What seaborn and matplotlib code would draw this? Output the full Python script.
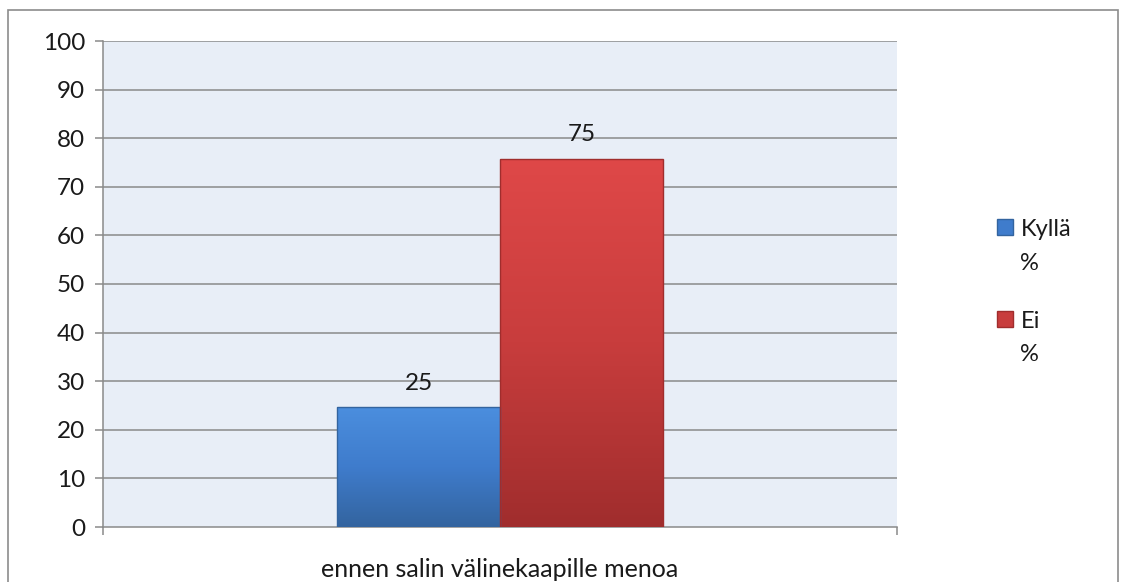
import matplotlib
matplotlib.use("Agg")
import matplotlib.pyplot as plt
import matplotlib.colors as mcolors
from matplotlib.patches import Rectangle
import numpy as np
import pandas as pd
import seaborn as sns

# ---- data ----
categories = ["ennen salin välinekaapille menoa"]
series = ["Kyllä\n%", "Ei\n%"]
values = [24.6, 75.8]
value_labels = ["25", "75"]
yticks = [0, 10, 20, 30, 40, 50, 60, 70, 80, 90, 100]

colors_mid = ["#3f7ccc", "#c83d3d"]
colors_top = ["#4b8ede", "#df4848"]
colors_bot = ["#33649f", "#a02d2d"]

sns.set_theme(style="white")
plt.rcParams["font.family"] = ["Lato", "DejaVu Sans"]

W, H, DPI = 1127, 582, 100
fig = plt.figure(figsize=(W / DPI, H / DPI), dpi=DPI)
fig.patch.set_facecolor("white")

ax = fig.add_axes([103 / W, 1 - 527 / H, (897 - 103) / W, (527 - 41) / H])
ax.set_facecolor("#e8eef7")

df = pd.DataFrame({
    "cat": [categories[0]] * len(series),
    "series": series,
    "val": values,
})

sns.barplot(data=df, x="cat", y="val", hue="series", hue_order=series,
            palette=colors_mid, width=0.41, ax=ax, saturation=1,
            edgecolor="none", linewidth=0, zorder=3)

ax.set_xlim(-0.5, 0.5)
ax.set_ylim(0, 100)
ax.set_yticks(yticks)
ax.set_yticklabels([str(t) for t in yticks])
ax.set_xlabel("")
ax.set_ylabel("")

# gridlines
for t in yticks[1:]:
    ax.axhline(t, color="#8a8a8a", lw=1.1, zorder=1)

# gradients on bars
bars = [p for p in ax.patches if isinstance(p, Rectangle)][:len(values)]
for i, p in enumerate(bars):
    x0, y0, w, h = p.get_x(), p.get_y(), p.get_width(), p.get_height()
    cmap = mcolors.LinearSegmentedColormap.from_list(
        "g%d" % i, [colors_bot[i], colors_mid[i], colors_top[i]])
    grad = np.linspace(0, 1, 256).reshape(-1, 1)
    im = ax.imshow(grad, cmap=cmap, origin="lower", aspect="auto",
                   extent=[x0, x0 + w, y0, y0 + h], zorder=4)
    im.set_clip_path(p)
    ax.add_patch(Rectangle((x0, y0), w, h, fill=False,
                           edgecolor=colors_bot[i], lw=1.0, zorder=5))
ax.set_xlim(-0.5, 0.5)
ax.set_ylim(0, 100)

# data labels
for i, p in enumerate(bars):
    ax.annotate(value_labels[i], (p.get_x() + p.get_width() / 2, p.get_height()),
                xytext=(0, 10), textcoords="offset points", ha="center",
                va="bottom", fontsize=17.5, color="#1a1a1a", zorder=6)

# spines and ticks
for s in ["top", "right"]:
    ax.spines[s].set_visible(False)
for s in ["left", "bottom"]:
    ax.spines[s].set_color("#8a8a8a")
    ax.spines[s].set_linewidth(1.1)
ax.tick_params(axis="y", which="major", direction="out", length=6, width=1.1,
               color="#8a8a8a", labelsize=17.5, labelcolor="#1a1a1a", pad=7, left=True)
ax.tick_params(axis="x", which="major", length=0, labelsize=18,
               labelcolor="#1a1a1a", pad=22)
ax.set_xticks([-0.5, 0.5], minor=True)
ax.tick_params(axis="x", which="minor", direction="out", length=6, width=1.1,
               color="#8a8a8a", bottom=True)

# legend
if ax.get_legend() is not None:
    ax.get_legend().remove()
handles = [Rectangle((0, 0), 1, 1, facecolor=colors_mid[i], edgecolor=colors_bot[i])
           for i in range(len(series))]
leg = fig.legend(handles, series, loc="upper left",
                 bbox_to_anchor=(976 / W, 1 - 198 / H), frameon=False,
                 fontsize=17, handlelength=0.68, handleheight=0.68,
                 handletextpad=0.3, labelspacing=1.55, labelcolor="#1a1a1a")
for t in leg.get_texts():
    t.set_linespacing(1.75)
try:
    for col in leg._legend_handle_box.get_children():
        for hp in col.get_children():
            hp.align = "top"
except Exception:
    pass

# outer border
fig.patches.append(Rectangle((8 / W, -0.02), (1118 - 8) / W, (582 - 10) / H + 0.02,
                             transform=fig.transFigure, fill=False,
                             edgecolor="#8c8c8c", lw=1.2))

fig.savefig("out.png", dpi=DPI)
